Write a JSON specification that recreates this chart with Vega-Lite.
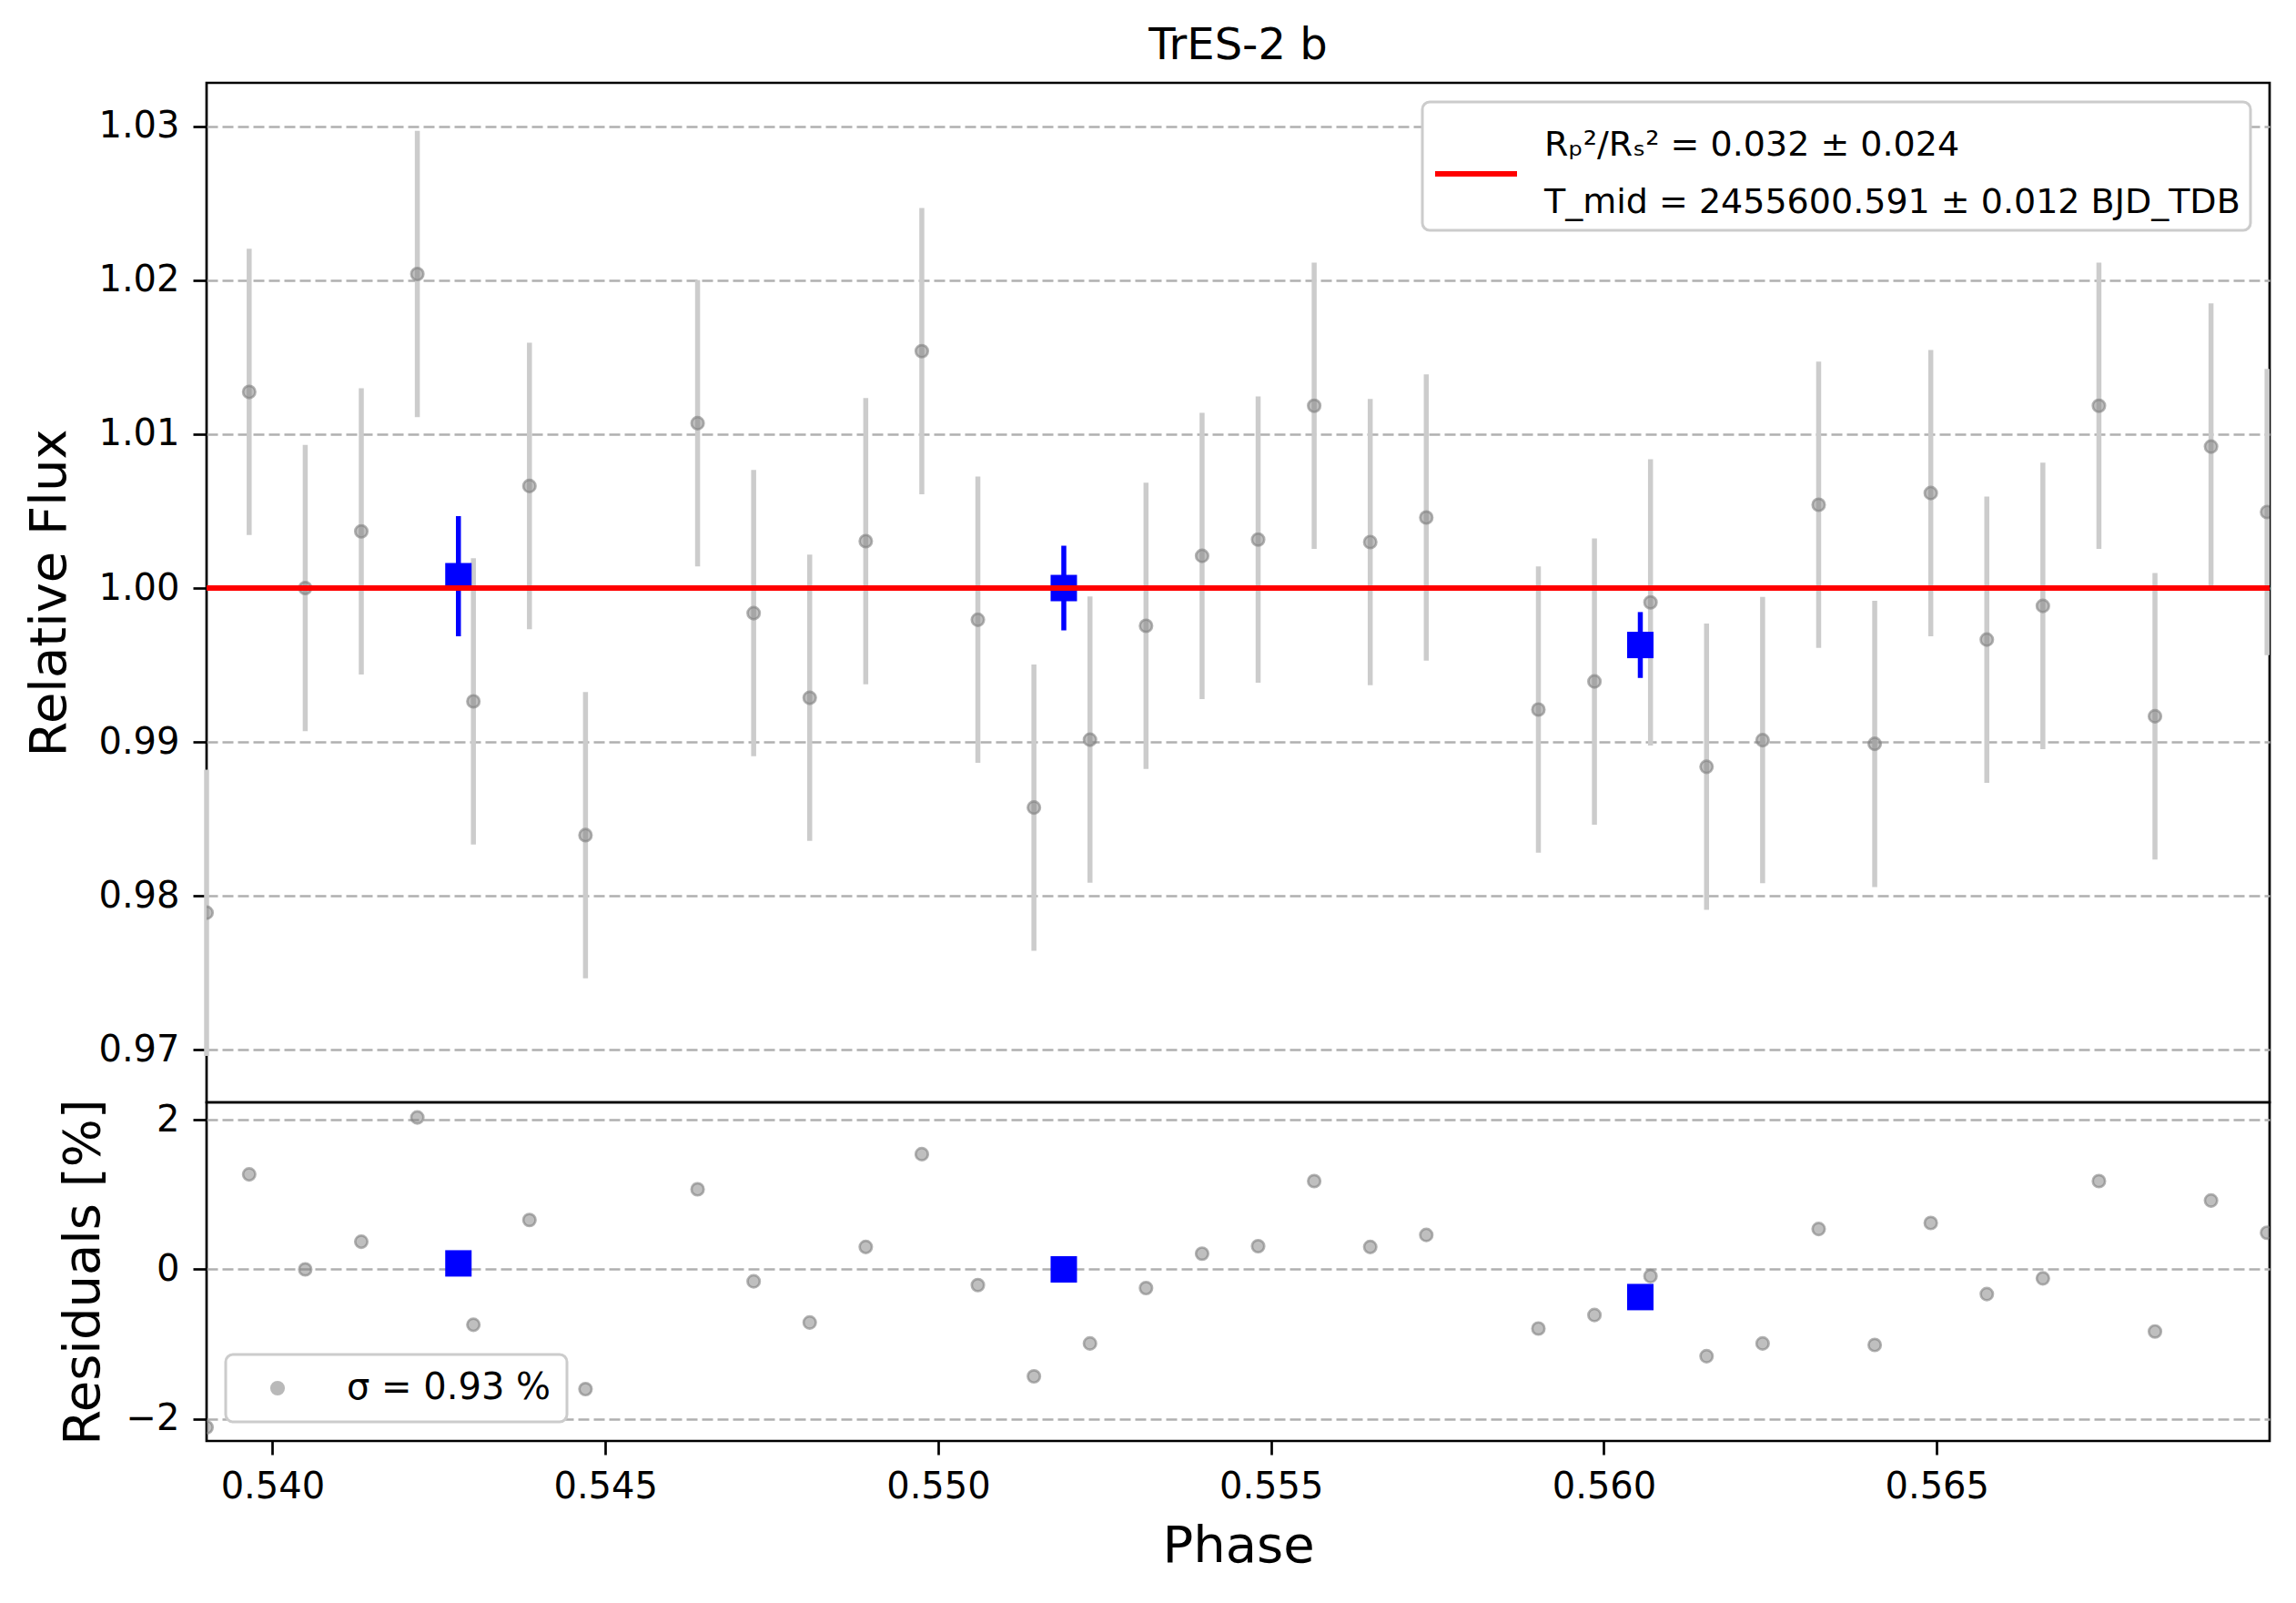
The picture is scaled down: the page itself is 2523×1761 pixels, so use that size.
{
  "$schema": "https://vega.github.io/schema/vega-lite/v6.json",
  "background": "white",
  "padding": {"left": 25, "top": 25, "right": 29, "bottom": 20},
  "config": {
    "font": "DejaVu Sans",
    "view": {"stroke": "black", "strokeWidth": 2.7},
    "style": {"guide-label": {"lineHeight": 63}},
    "axis": {
      "domain": false,
      "labelFont": "DejaVu Sans",
      "labelFontSize": 40,
      "labelColor": "black",
      "labelPadding": 15,
      "labelFlush": false,
      "labelOverlap": false,
      "tickColor": "black",
      "tickSize": 15,
      "tickWidth": 2.7,
      "titleFont": "DejaVu Sans",
      "titleFontSize": 56,
      "titleFontWeight": "normal",
      "titleColor": "black",
      "gridColor": "#b0b0b0",
      "gridDash": [12, 5],
      "gridWidth": 2.7
    },
    "axisX": {"grid": false},
    "legend": {
      "labelFont": "DejaVu Sans",
      "labelFontSize": 40,
      "labelColor": "black",
      "labelLimit": 0,
      "fillColor": "white",
      "strokeColor": "#cccccc",
      "strokeWidth": 3,
      "cornerRadius": 8
    }
  },
  "datasets": {
    "gray": [
      {"phase": 0.53901, "flux": 0.97891, "err": 0.0093, "resid": -2.11},
      {"phase": 0.53965, "flux": 1.01274, "err": 0.0093, "resid": 1.27},
      {"phase": 0.540492, "flux": 1.0, "err": 0.0093, "resid": 0.0},
      {"phase": 0.541334, "flux": 1.00368, "err": 0.0093, "resid": 0.37},
      {"phase": 0.542176, "flux": 1.0204, "err": 0.0093, "resid": 2.03},
      {"phase": 0.543018, "flux": 0.99264, "err": 0.0093, "resid": -0.74},
      {"phase": 0.54386, "flux": 1.00663, "err": 0.0093, "resid": 0.66},
      {"phase": 0.544702, "flux": 0.98395, "err": 0.0093, "resid": -1.6},
      {"phase": 0.546386, "flux": 1.01071, "err": 0.0093, "resid": 1.07},
      {"phase": 0.547228, "flux": 0.99837, "err": 0.0093, "resid": -0.16},
      {"phase": 0.54807, "flux": 0.99287, "err": 0.0093, "resid": -0.71},
      {"phase": 0.548912, "flux": 1.00305, "err": 0.0093, "resid": 0.3},
      {"phase": 0.549754, "flux": 1.01539, "err": 0.0093, "resid": 1.54},
      {"phase": 0.550596, "flux": 0.99794, "err": 0.0093, "resid": -0.21},
      {"phase": 0.551438, "flux": 0.98574, "err": 0.0093, "resid": -1.43},
      {"phase": 0.55228, "flux": 0.99015, "err": 0.0093, "resid": -0.99},
      {"phase": 0.553122, "flux": 0.99755, "err": 0.0093, "resid": -0.25},
      {"phase": 0.553964, "flux": 1.00209, "err": 0.0093, "resid": 0.21},
      {"phase": 0.554806, "flux": 1.00315, "err": 0.0093, "resid": 0.31},
      {"phase": 0.555648, "flux": 1.01184, "err": 0.0093, "resid": 1.18},
      {"phase": 0.55649, "flux": 1.00299, "err": 0.0093, "resid": 0.3},
      {"phase": 0.557332, "flux": 1.00458, "err": 0.0093, "resid": 0.46},
      {"phase": 0.559016, "flux": 0.99211, "err": 0.0093, "resid": -0.79},
      {"phase": 0.559858, "flux": 0.99393, "err": 0.0093, "resid": -0.61},
      {"phase": 0.5607, "flux": 0.99907, "err": 0.0093, "resid": -0.09},
      {"phase": 0.561542, "flux": 0.98839, "err": 0.0093, "resid": -1.16},
      {"phase": 0.562384, "flux": 0.99012, "err": 0.0093, "resid": -0.99},
      {"phase": 0.563226, "flux": 1.00541, "err": 0.0093, "resid": 0.54},
      {"phase": 0.564068, "flux": 0.98988, "err": 0.0093, "resid": -1.01},
      {"phase": 0.56491, "flux": 1.00617, "err": 0.0093, "resid": 0.62},
      {"phase": 0.565752, "flux": 0.99665, "err": 0.0093, "resid": -0.33},
      {"phase": 0.566594, "flux": 0.99884, "err": 0.0093, "resid": -0.12},
      {"phase": 0.567436, "flux": 1.01184, "err": 0.0093, "resid": 1.18},
      {"phase": 0.568278, "flux": 0.99167, "err": 0.0093, "resid": -0.83},
      {"phase": 0.56912, "flux": 1.00919, "err": 0.0093, "resid": 0.92},
      {"phase": 0.569962, "flux": 1.00494, "err": 0.0093, "resid": 0.49}
    ],
    "binned": [
      {"phase": 0.542793, "flux": 1.00077, "err": 0.0039, "resid": 0.08},
      {"phase": 0.551887, "flux": 1.0, "err": 0.00275, "resid": 0.0},
      {"phase": 0.560547, "flux": 0.9963, "err": 0.00214, "resid": -0.37}
    ]
  },
  "spacing": 0,
  "bounds": "flush",
  "resolve": {
    "scale": {"y": "independent", "color": "independent"},
    "legend": {"color": "independent"}
  },
  "vconcat": [
    {
      "width": 2267,
      "height": 1120,
      "title": {
        "text": "TrES-2 b",
        "font": "DejaVu Sans",
        "fontSize": 48,
        "fontWeight": "normal",
        "color": "black",
        "anchor": "middle",
        "frame": "group",
        "offset": 16
      },
      "data": {"name": "gray"},
      "layer": [
        {
          "mark": {"type": "errorbar", "ticks": false, "color": "#cccccc", "thickness": 5.5},
          "encoding": {
            "x": {"field": "phase", "type": "quantitative", "scale": {"domain": [0.53901, 0.57], "nice": false, "zero": false}, "axis": null},
            "y": {
              "field": "flux", "type": "quantitative", "title": "Relative Flux",
              "scale": {"domain": [0.96659, 1.03282], "nice": false, "zero": false},
              "axis": {"title": "Relative Flux", "values": [0.97, 0.98, 0.99, 1.0, 1.01, 1.02, 1.03], "format": ".2f", "grid": true, "titlePadding": 24}
            },
            "yError": {"field": "err"}
          }
        },
        {
          "mark": {"type": "point", "shape": "circle", "filled": true, "size": 180, "fill": "#808080", "fillOpacity": 0.5, "stroke": "#808080", "strokeOpacity": 0.6, "strokeWidth": 2.7, "opacity": 1, "clip": true},
          "encoding": {
            "x": {"field": "phase", "type": "quantitative", "title": "Phase"},
            "y": {"field": "flux", "type": "quantitative", "title": "Relative Flux"}
          }
        },
        {
          "data": {"name": "binned"},
          "mark": {"type": "errorbar", "ticks": false, "color": "#0000ff", "thickness": 5.5},
          "encoding": {
            "x": {"field": "phase", "type": "quantitative", "title": "Phase"},
            "y": {"field": "flux", "type": "quantitative", "title": "Relative Flux"},
            "yError": {"field": "err"}
          }
        },
        {
          "data": {"name": "binned"},
          "mark": {"type": "square", "filled": true, "size": 841, "color": "#0000ff", "opacity": 1},
          "encoding": {
            "x": {"field": "phase", "type": "quantitative", "title": "Phase"},
            "y": {"field": "flux", "type": "quantitative", "title": "Relative Flux"}
          }
        },
        {
          "data": {"values": [{}]},
          "mark": {"type": "rule", "strokeWidth": 6, "opacity": 1},
          "encoding": {
            "y": {"datum": 1, "title": "Relative Flux"},
            "color": {
              "datum": "Rₚ²/Rₛ² = 0.032 ± 0.024|T_mid = 2455600.591 ± 0.012 BJD_TDB",
              "type": "nominal",
              "scale": {"range": ["#ff0000"]},
              "legend": {
                "title": " ",
                "titleFontSize": 10,
                "titlePadding": 10,
                "orient": "top-right",
                "offset": 21,
                "padding": 11,
                "symbolType": "stroke",
                "symbolSize": 8100,
                "symbolStrokeWidth": 6,
                "labelOffset": 27,
                "labelFontSize": 38,
                "labelBaseline": "line-bottom",
                "labelExpr": "split(datum.label, '|')"
              }
            }
          }
        }
      ]
    },
    {
      "width": 2267,
      "height": 372,
      "data": {"name": "gray"},
      "layer": [
        {
          "mark": {"type": "point", "shape": "circle", "filled": true, "size": 180, "stroke": "#808080", "fillOpacity": 0.5, "strokeOpacity": 0.6, "strokeWidth": 2.7, "opacity": 1, "clip": true},
          "encoding": {
            "x": {
              "field": "phase", "type": "quantitative", "title": "Phase",
              "scale": {"domain": [0.53901, 0.57], "nice": false, "zero": false},
              "axis": {"title": "Phase", "values": [0.54, 0.545, 0.55, 0.555, 0.56, 0.565], "format": ".3f", "titlePadding": 18}
            },
            "y": {
              "field": "resid", "type": "quantitative", "title": "Residuals [%]",
              "scale": {"domain": [-2.293, 2.232], "nice": false, "zero": false},
              "axis": {"title": "Residuals [%]", "values": [-2, 0, 2], "format": "d", "grid": true, "titlePadding": 18}
            },
            "color": {
              "datum": "σ = 0.93 %",
              "type": "nominal",
              "scale": {"range": ["#808080"]},
              "legend": {
                "title": null,
                "orient": "bottom-left",
                "offset": 21,
                "padding": 17,
                "symbolType": "circle",
                "symbolSize": 180,
                "symbolOffset": 20,
                "symbolOpacity": 0.55,
                "symbolStrokeColor": "#808080",
                "symbolStrokeWidth": 2.7,
                "labelOffset": 56
              }
            }
          }
        },
        {
          "data": {"name": "binned"},
          "mark": {"type": "square", "filled": true, "size": 841, "color": "#0000ff", "opacity": 1},
          "encoding": {
            "x": {"field": "phase", "type": "quantitative", "title": "Phase"},
            "y": {"field": "resid", "type": "quantitative", "title": "Residuals [%]"}
          }
        }
      ]
    }
  ]
}
